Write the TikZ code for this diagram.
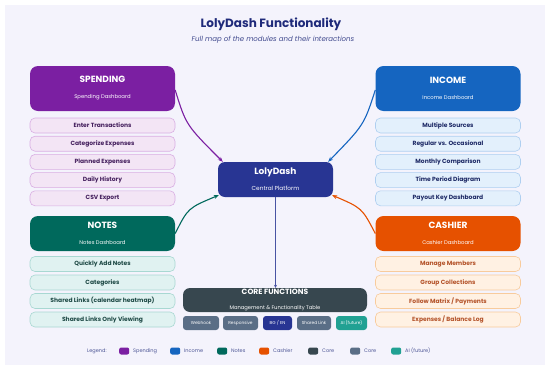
\documentclass[tikz,border=0pt]{standalone}
\usepackage{fontspec}
\setmainfont{Poppins}
\usetikzlibrary{arrows.meta}

% colours of the modules
\definecolor{spend}{HTML}{7B1FA2}
\definecolor{spendbg}{HTML}{F3E5F5}
\definecolor{spendln}{HTML}{D9AEE3}
\definecolor{spendtx}{HTML}{45205E}
\definecolor{incom}{HTML}{1565C0}
\definecolor{incombg}{HTML}{E3F0FC}
\definecolor{incomln}{HTML}{AFCFF0}
\definecolor{incomtx}{HTML}{1E2A66}
\definecolor{notes}{HTML}{00695C}
\definecolor{notesbg}{HTML}{E0F2F1}
\definecolor{notesln}{HTML}{A8D8D2}
\definecolor{notestx}{HTML}{1F4A46}
\definecolor{cash}{HTML}{E65100}
\definecolor{cashbg}{HTML}{FFF1E3}
\definecolor{cashln}{HTML}{F8CB9C}
\definecolor{cashtx}{HTML}{B4532A}
\definecolor{navy}{HTML}{283593}
\definecolor{titletx}{HTML}{1F2A7A}
\definecolor{core}{HTML}{37474F}
\definecolor{chip}{HTML}{5A6E86}
\definecolor{aiteal}{HTML}{21A193}
\definecolor{paper}{HTML}{F4F3FC}

\tikzset{
  head/.style={rounded corners=8pt, minimum width=145pt, minimum height=45pt,
    text=white, align=center, inner sep=0pt},
  item/.style={rounded corners=5pt, minimum width=145pt, minimum height=15pt,
    line width=0.6pt, inner sep=0pt, font=\fontsize{6}{7}\selectfont\bfseries},
  chipbox/.style={rounded corners=3pt, minimum height=14pt, inner sep=0pt,
    text=white, font=\fontsize{4.3}{5}\selectfont},
  swatch/.style={rounded corners=2pt, minimum width=10pt, minimum height=7pt, inner sep=0pt},
  legtext/.style={anchor=west, inner sep=0pt, text=titletx!80, font=\fontsize{5}{6}\selectfont},
  link/.style={line width=1.1pt, -{Stealth[length=5pt,width=4pt]}},
}

\newcommand{\headtext}[3][5.3]{{\fontsize{9}{10}\selectfont\bfseries #2}\\[4pt]{\fontsize{#1}{6}\selectfont #3}}

\begin{document}
\begin{tikzpicture}[x=1pt,y=-1pt]
    % Fond
    \fill[white] (0,0) rectangle (550,370);
    \fill[paper] (5,5) rectangle (545,365);

    % Titre
    \node[text=titletx, font=\fontsize{12}{14}\selectfont\bfseries] (title) at (271,24) {LolyDash Functionality};
    \node[text=titletx!85, font=\fontsize{7}{8}\selectfont\itshape] (subtitle) at (273,40) {Full map of the modules and their interactions};

    % Centre
    \node[head, fill=navy, minimum width=115pt, minimum height=35pt, rounded corners=7pt] (lolydash) at (275.5,179.5)
        {\headtext[5.8]{LolyDash}{Central Platform}};

    % Modules
    \node[head, fill=spend] (spending) at (102.5,88.5) {\headtext{SPENDING}{Spending Dashboard}};
    \node[head, fill=incom] (income) at (448,88.5) {\headtext{INCOME}{Income Dashboard}};
    \node[head, fill=notes, minimum height=35pt] (notesbox) at (102.5,233.5) {\headtext{NOTES}{Notes Dashboard}};
    \node[head, fill=cash, minimum height=35pt] (cashier) at (448,233.5) {\headtext{CASHIER}{Cashier Dashboard}};

    % Listes
    \foreach \t [count=\i from 0] in {Enter Transactions, Categorize Expenses, Planned Expenses, Daily History, CSV Export}
        \node[item, fill=spendbg, draw=spendln, text=spendtx] (sp\i) at (102.5,125.5+18.2*\i) {\t};
    \foreach \t [count=\i from 0] in {Multiple Sources, Regular vs. Occasional, Monthly Comparison, Time Period Diagram, Payout Key Dashboard}
        \node[item, fill=incombg, draw=incomln, text=incomtx] (in\i) at (448,125.5+18.2*\i) {\t};
    \foreach \t [count=\i from 0] in {Quickly Add Notes, Categories, Shared Links (calendar heatmap), Shared Links Only Viewing}
        \node[item, fill=notesbg, draw=notesln, text=notestx] (no\i) at (102.5,264+18.5*\i) {\t};
    \foreach \t [count=\i from 0] in {Manage Members, Group Collections, Follow Matrix / Payments, Expenses / Balance Log}
        \node[item, fill=cashbg, draw=cashln, text=cashtx] (ca\i) at (448,264+18.5*\i) {\t};

    % Fonctions de base
    \node[head, fill=core, minimum width=184pt, minimum height=24pt, rounded corners=7pt] (corefn) at (275,300)
        {{\fontsize{7.6}{8}\selectfont\bfseries CORE FUNCTIONS}\\[2.5pt]{\fontsize{5.2}{6}\selectfont Management \& Functionality Table}};
    \node[chipbox, fill=chip, minimum width=36pt] (webhook) at (201,323) {Webhook};
    \node[chipbox, fill=chip, minimum width=35pt] (responsive) at (240.5,323) {Responsive};
    \node[chipbox, fill=navy, minimum width=29pt] (bgen) at (277.5,323) {BG / EN};
    \node[chipbox, fill=chip, minimum width=34pt] (sharedlink) at (314,323) {Shared Link};
    \node[chipbox, fill=aiteal, minimum width=31pt] (aifuture) at (351.5,323) {AI (future)};

    % Liaisons
    \draw[link, spend] ([yshift=-1.5pt]spending.east) .. controls (186,125) .. ([xshift=5pt]lolydash.north west);
    \draw[link, incom] ([yshift=-1.5pt]income.west) .. controls (364,125) .. ([xshift=-5pt]lolydash.north east);
    \draw[link, notes] (notesbox.east) .. controls (188,208) .. ([xshift=1pt,yshift=2pt]lolydash.south west);
    \draw[link, cash] (cashier.west) .. controls (362,208) .. ([xshift=-1pt,yshift=2pt]lolydash.south east);
    \draw[navy!85, line width=0.8pt, -{Stealth[length=3pt,width=3pt]}] (lolydash.south) -- (lolydash.south |- corefn.north);

    % Legende
    \node[legtext] (legend) at (87,351) {Legend:};
    \foreach \c/\t/\x in {spend/Spending/119, incom/Income/170, notes/Notes/217, cash/Cashier/259, core/Core/308, chip/Core/350, aiteal/AI (future)/391}
        \node[swatch, fill=\c, anchor=west] (sw\x) at (\x,351) {} node[legtext] at (\x+14,351) {\t};
\end{tikzpicture}
\end{document}
